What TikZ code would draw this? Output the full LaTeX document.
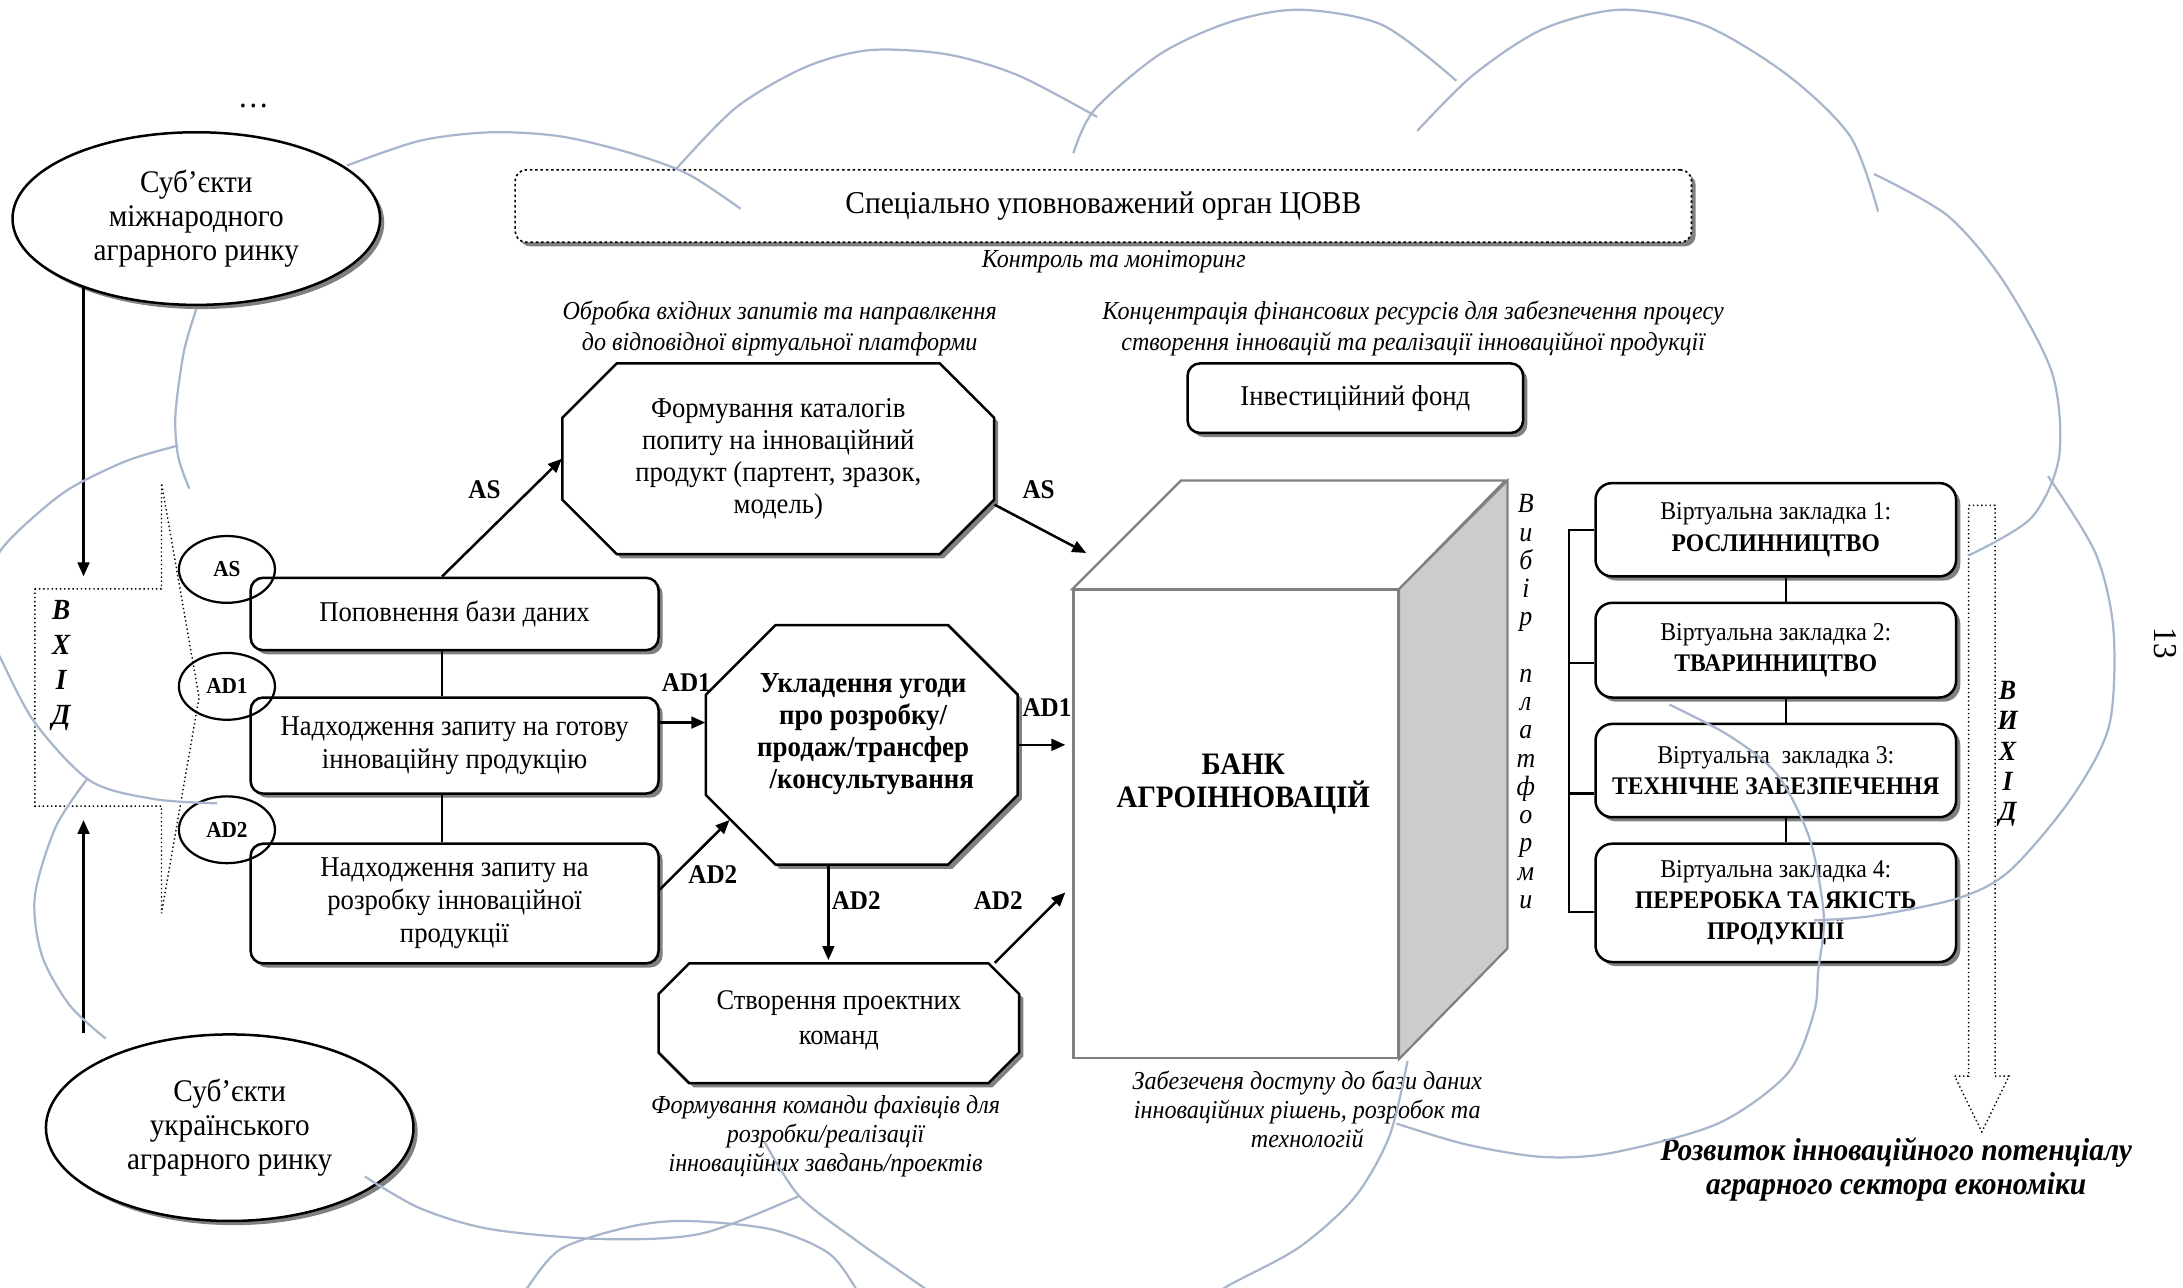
\documentclass[tikz,border=0pt]{standalone}
\usepackage{fontspec}
\setmainfont[FakeStretch=0.93]{Liberation Serif}
\usetikzlibrary{shapes.geometric,shadows,arrows.meta}
\definecolor{khmarnyi}{RGB}{168,182,204}
\definecolor{tinkolir}{RGB}{128,128,128}
\definecolor{bichna}{RGB}{204,204,204}
% восьмикутник: центр x, центр y, півширина, піввисота, зріз
\newcommand{\vosmikutnyk}[5]{%
  \fill[tinkolir, shift={(1.5pt,-1.5pt)}] (#1-#3+#5,#2-#4) -- (#1+#3-#5,#2-#4) -- (#1+#3,#2-#4+#5) -- (#1+#3,#2+#4-#5) -- (#1+#3-#5,#2+#4) -- (#1-#3+#5,#2+#4) -- (#1-#3,#2+#4-#5) -- (#1-#3,#2-#4+#5) -- cycle;
  \draw[line width=0.9pt, fill=white] (#1-#3+#5,#2-#4) -- (#1+#3-#5,#2-#4) -- (#1+#3,#2-#4+#5) -- (#1+#3,#2+#4-#5) -- (#1+#3-#5,#2+#4) -- (#1-#3+#5,#2+#4) -- (#1-#3,#2+#4-#5) -- (#1-#3,#2-#4+#5) -- cycle;
}
\tikzstyle{tin} = [drop shadow={shadow xshift=1.5pt, shadow yshift=-1.5pt, opacity=1, fill=tinkolir}]
\tikzstyle{blok} = [draw, line width=0.9pt, fill=white, rectangle, rounded corners=4.5pt, align=center, inner sep=2pt, tin, font=\fontsize{10.3}{11.8}\selectfont]
\tikzstyle{zakladka} = [blok, rounded corners=6pt, inner sep=1pt, font=\fontsize{9.2}{11.2}\selectfont]
\tikzstyle{vosmitekst} = [rectangle, inner sep=0pt, align=center, font=\fontsize{10.3}{11.5}\selectfont]
\tikzstyle{oval} = [draw, line width=0.9pt, fill=white, ellipse, inner sep=0pt, align=center, tin, font=\fontsize{11.3}{12.3}\selectfont]
\tikzstyle{kilce} = [draw, line width=0.8pt, ellipse, minimum width=34.5pt, minimum height=24pt, inner sep=0pt, font=\bfseries\fontsize{8.2}{10}\selectfont]
\tikzstyle{mitka} = [inner sep=0pt, font=\bfseries\fontsize{9.7}{12}\selectfont]
\tikzstyle{pidpys} = [inner sep=0pt, align=center, font=\itshape\fontsize{9.3}{11}\selectfont]
\tikzstyle{strilka} = [line width=0.9pt, -{Triangle[length=5pt,width=4.2pt]}]
\tikzstyle{zviazok} = [line width=0.8pt]
\tikzstyle{kub} = [draw=tinkolir, line width=0.8pt]
\tikzstyle{khmara} = [draw=khmarnyi, line width=0.8pt]

\begin{document}
\begin{tikzpicture}[x=0.5pt, y=-0.5pt]
	\useasboundingbox (0,0) rectangle (1568,925);
	% суб'єкти ринку та вхід
	\node[oval, minimum width=132pt, minimum height=62pt] (mizhn) at (141,157) {Суб’єкти\\міжнародного\\аграрного ринку};
	\node[oval, minimum width=132pt, minimum height=67pt] (ukr) at (165,810) {Суб’єкти\\українського\\аграрного ринку};
	\node[font=\fontsize{12}{14}\selectfont] (krapky) at (182,76) {\ldots};
	\coordinate (vkhidverkh) at (60,414);
	\coordinate (vkhidniz) at (60,589);
	\draw[densely dotted, line width=0.5pt] (25,423) -- (116,423) -- (116,347) -- (143,501) -- (116,656) -- (116,579) -- (25,579) -- cycle;
	\node[align=center, inner sep=0pt, font=\bfseries\itshape\fontsize{10.5}{12.5}\selectfont] (vkhid) at (44,478) {В\\Х\\І\\Д};
	\draw[strilka] (mizhn.211 -| vkhidverkh) -- (vkhidverkh);
	\draw[strilka] (ukr.north -| vkhidniz) -- (vkhidniz);

	% запити
	\node[blok, minimum width=146.5pt, minimum height=26pt] (popovn) at (326.5,441) {Поповнення бази даних};
	\node[blok, minimum width=146.5pt, minimum height=34.5pt] (gotova) at (326.5,535.5) {Надходження запиту на готову\\інноваційну продукцію};
	\node[blok, minimum width=146.5pt, minimum height=43pt] (rozrob) at (326.5,649) {Надходження запиту на\\розробку інноваційної\\продукції};
	\draw[zviazok] ([xshift=-4.5pt]popovn.south) -- ([xshift=-4.5pt]gotova.north);
	\draw[zviazok] ([xshift=-4.5pt]gotova.south) -- ([xshift=-4.5pt]rozrob.north);
	\node[kilce] (kAS) at (163,409) {AS};
	\node[kilce] (kAD1) at (163,493) {AD1};
	\node[kilce] (kAD2) at (163,596) {AD2};

	% орган, фонд, восьмикутники
	\node[blok, densely dotted, line width=0.6pt, rounded corners=4pt, minimum width=422.5pt, minimum height=26pt, font=\fontsize{11.4}{13}\selectfont] (tsovv) at (792.5,148) {Спеціально уповноважений орган ЦОВВ};
	\node[pidpys] (kontrol) at (800,188) {Контроль та моніторинг};
	\node[pidpys] (obrobka) at (560,236) {Обробка вхідних запитів та направлкення\\до відповідної віртуальної платформи};
	\node[pidpys] (koncentr) at (1015,236) {Концентрація фінансових ресурсів для забезпечення процесу\\створення інновацій та реалізації інноваційної продукції};
	\node[blok, minimum width=120.5pt, minimum height=25pt] (fond) at (973.5,286) {Інвестиційний фонд};
	\vosmikutnyk{559}{329.5}{155}{68.5}{39}
	\node[vosmitekst, minimum width=155pt, minimum height=68.5pt] (katal) at (559,329.5) {Формування каталогів\\попиту на інноваційний\\продукт (партент, зразок,\\модель)};
	\vosmikutnyk{619}{535}{112}{86}{50}
	\node[vosmitekst, minimum width=112pt, minimum height=86pt] (ugoda) at (619,535) {};
	\node[vosmitekst, font=\bfseries\fontsize{10.4}{11.5}\selectfont] (ugodatekst) at (620,527) {Укладення угоди\\про розробку/\\продаж/трансфер\\\hspace*{0.6em}/консультування};
	\vosmikutnyk{602.5}{735}{129.5}{43}{22}
	\node[vosmitekst, minimum width=129.5pt, minimum height=43pt, font=\fontsize{10.2}{12.5}\selectfont] (komand) at (602.5,733) {Створення проектних\\команд};
	\node[pidpys, font=\itshape\fontsize{9.3}{10.5}\selectfont] (formuv) at (593,816) {Формування команди фахівців для\\розробки/реалізації\\інноваційних завдань/проектів};

	% банк
	\node[kub, fill=white, minimum width=116.5pt, minimum height=168pt, inner sep=0pt] (bank) at (887.5,592) {};
	\draw[kub, fill=white] (bank.north west) -- ++(39pt,39pt) -- ++(116.5pt,0) -- (bank.north east) -- cycle;
	\draw[kub, fill=bichna] (bank.north east) -- ++(39pt,39pt) -- ++(0,-168pt) -- (bank.south east) -- cycle;
	\node[align=center, font=\bfseries\fontsize{11.2}{12}\selectfont] (banktekst) at (893,563) {БАНК\\АГРОІННОВАЦІЙ};
	\node[pidpys, font=\itshape\fontsize{9.3}{10.5}\selectfont] (dostup) at (939,797) {Забезеченя доступу до бази даних\\інноваційних рішень, розробок та\\технологій};
	\node[align=center, inner sep=0pt, font=\itshape\fontsize{10}{10.15}\selectfont] (vybir) at (1096,504) {В\\и\\б\\і\\р\\[10.15pt]п\\л\\а\\т\\ф\\о\\р\\м\\и};

	% стрілки AS / AD
	\draw[strilka] ([xshift=-4.5pt]popovn.north) -- (katal.west);
	\node[mitka] (lAS1) at (348,352) {AS};
	\draw[strilka] ([yshift=-16.5pt]katal.east) -- ([shift={(5pt,13pt)}]bank.north west);
	\node[mitka] (lAS2) at (746,352) {AS};
	\draw[strilka] ([yshift=8.25pt]gotova.east) -- ([yshift=8.25pt]gotova.east -| ugoda.west);
	\node[mitka] (lAD1a) at (493,490) {AD1};
	\draw[strilka] ([yshift=5pt]rozrob.east) -- ([shift={(-47.5pt,-27pt)}]ugoda.center);
	\node[mitka] (lAD2a) at (512,628) {AD2};
	\draw[strilka] (ugoda.east) -- ([xshift=-2.5pt]ugoda.east -| bank.west);
	\node[mitka] (lAD1b) at (752,508) {AD1};
	\draw[strilka] ([xshift=-12pt]ugoda.south) -- ([xshift=-12pt]ugoda.south |- komand.north);
	\node[mitka] (lAD2b) at (615,647) {AD2};
	\draw[strilka] ([shift={(56pt,-1pt)}]komand.north) -- ([shift={(-2.5pt,-24.5pt)}]bank.west);
	\node[mitka] (lAD2c) at (717,647) {AD2};

	% віртуальні закладки
	\node[zakladka, minimum width=129.5pt, minimum height=33.5pt] (zakl1) at (1275.5,380.5) {Віртуальна закладка 1:\\{\bfseries\fontsize{9.1}{11.2}\selectfont РОСЛИННИЦТВО}};
	\node[zakladka, minimum width=129.5pt, minimum height=34pt] (zakl2) at (1275.5,467) {Віртуальна закладка 2:\\{\bfseries\fontsize{9.1}{11.2}\selectfont ТВАРИННИЦТВО}};
	\node[zakladka, minimum width=129.5pt, minimum height=33.5pt] (zakl3) at (1275.5,553.5) {Віртуальна\ \ закладка 3:\\{\bfseries\fontsize{9.1}{11.2}\selectfont ТЕХНІЧНЕ ЗАБЕЗПЕЧЕННЯ}};
	\node[zakladka, minimum width=129.5pt, minimum height=42.5pt] (zakl4) at (1275.5,648.5) {Віртуальна закладка 4:\\{\bfseries\fontsize{9.1}{11.2}\selectfont ПЕРЕРОБКА ТА ЯКІСТЬ}\\{\bfseries\fontsize{9.1}{11.2}\selectfont ПРОДУКЦІЇ}};
	\draw[zviazok] ([xshift=3.75pt]zakl1.south) -- ([xshift=3.75pt]zakl2.north);
	\draw[zviazok] ([xshift=3.75pt]zakl2.south) -- ([xshift=3.75pt]zakl3.north);
	\draw[zviazok] ([xshift=3.75pt]zakl3.south) -- ([xshift=3.75pt]zakl4.north);
	\draw[zviazok] (zakl1.west) -- ++(-9pt,0) |- ([yshift=-3.25pt]zakl4.west);
	\draw[zviazok] ([yshift=-4.5pt]zakl2.west) -- ++(-9pt,0);
	\draw[zviazok] ([yshift=-8.25pt]zakl3.west) -- ++(-9pt,0);

	% вихід
	\draw[densely dotted, line width=0.5pt] (1414,363) -- (1433,363) -- (1433,773) -- (1443,773) -- (1423.5,813) -- (1404,773) -- (1414,773) -- cycle;
	\node[align=center, inner sep=0pt, font=\bfseries\itshape\fontsize{10}{10.9}\selectfont] (vykhid) at (1442,541.5) {В\\И\\Х\\І\\Д};
	\node[align=center, inner sep=0pt, font=\bfseries\itshape\fontsize{11.4}{12.5}\selectfont] (rozvytok) at (1362,840) {Розвиток інноваційного потенціалу\\аграрного сектора економіки};
	\node[rotate=-90, font=\fontsize{12}{14}\selectfont] (storinka) at (1555,462) {13};

	% хмара
	\draw[khmara] plot[smooth] coordinates {(249,119) (302,101) (353,95) (403,98) (453,110) (494,125) (532,150)};
	\draw[khmara] plot[smooth] coordinates {(486,121) (529,77) (579,48) (625,36) (680,39) (731,54) (788,84)};
	\draw[khmara] plot[smooth] coordinates {(771,110) (786,79) (833,39) (883,16) (933,7) (993,18) (1046,58)};
	\draw[khmara] plot[smooth] coordinates {(1018,94) (1058,54) (1108,21) (1164,7) (1224,18) (1284,54) (1329,98) (1349,152)};
	\draw[khmara] plot[smooth] coordinates {(1346,125) (1399,155) (1439,202) (1474,268) (1479,328) (1459,372) (1414,399)};
	\draw[khmara] plot[smooth] coordinates {(1471,342) (1505,397) (1518,452) (1515,521) (1488,573) (1444,625) (1407,645) (1344,658) (1303,661)};
	\draw[khmara] plot[smooth] coordinates {(1199,506) (1243,529) (1277,557) (1300,603) (1310,658) (1306,697) (1303,727) (1284,771) (1234,807) (1158,828) (1108,831) (1053,822) (1003,807)};
	\draw[khmara] plot[smooth] coordinates {(1011,762) (998,816) (973,860) (933,896) (883,923) (865,935)};
	\draw[khmara] plot[smooth] coordinates {(370,940) (378,926) (403,897) (453,881) (494,877) (554,883) (595,900) (615,926) (620,940)};
	\draw[khmara] plot[smooth] coordinates {(262,845) (302,868) (353,883) (433,890) (504,886) (574,859)};
	\draw[khmara] plot[smooth] coordinates {(549,820) (574,859) (615,891) (665,926) (675,935)};
	\draw[khmara] plot[smooth] coordinates {(128,320) (91,331) (50,351) (20,375) (0,396) (-10,420)};
	\draw[khmara] plot[smooth] coordinates {(-8,455) (0,472) (25,519) (65,561) (111,574) (156,577)};
	\draw[khmara] plot[smooth] coordinates {(141,222) (132,253) (126,298) (128,328) (136,351)};
	\draw[khmara] plot[smooth] coordinates {(63,559) (40,594) (25,644) (30,686) (50,722) (76,746)};
\end{tikzpicture}
\end{document}
